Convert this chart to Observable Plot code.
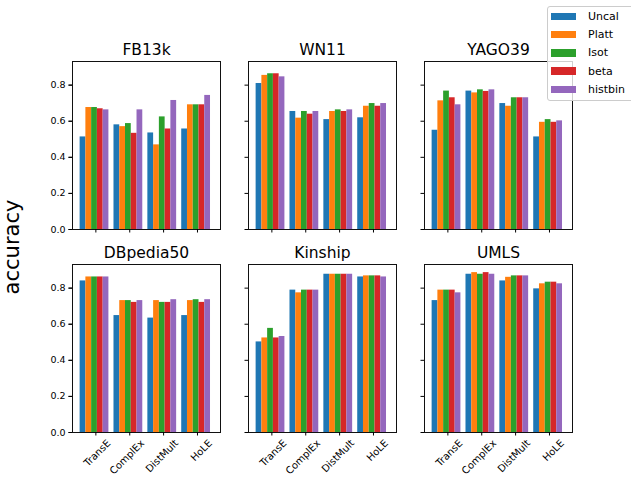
<!DOCTYPE html>
<html>
<head>
<meta charset="utf-8">
<script src="https://cdn.jsdelivr.net/npm/d3@7"></script>
<script src="https://cdn.jsdelivr.net/npm/@observablehq/plot@0.6"></script>
<style>
  html, body { margin: 0; padding: 0; background: white; }
  #wrap { position: relative; width: 631px; height: 487px; overflow: hidden; font-family: "DejaVu Sans", sans-serif; }
  #ylabel { position: absolute; left: 12px; top: 247px; transform: translate(-50%, -50%) rotate(-90deg); font-size: 21px; white-space: nowrap; color: #000; }
  #legend { position: absolute; left: 547px; top: 6px; width: 96px; height: 93px; border: 1px solid #cccccc; border-radius: 3px; background: rgba(255,255,255,0.8); font-size: 11px; color: #000; }
  .item { position: absolute; left: 3px; height: 12px; display: flex; align-items: center; }
  .sw { width: 25px; height: 7.5px; margin-right: 12px; }
</style>
</head>
<body>
<div id="wrap">
  <div id="chart"></div>
  <div id="ylabel">accuracy</div>
  <div id="legend"></div>
</div>
<script>
const datasets = ["FB13k", "WN11", "YAGO39", "DBpedia50", "Kinship", "UMLS"];
const models = ["TransE", "ComplEx", "DistMult", "HoLE"];
const methods = ["Uncal", "Platt", "Isot", "beta", "histbin"];
const colors = ["#1f77b4", "#ff7f0e", "#2ca02c", "#d62728", "#9467bd"];
const yTicks = [0, 0.2, 0.4, 0.6, 0.8];

// rows: models (TransE, ComplEx, DistMult, HoLE); columns: methods (Uncal, Platt, Isot, beta, histbin)
const fb13k = [[0.513, 0.676, 0.676, 0.669, 0.663], [0.580, 0.570, 0.587, 0.533, 0.663], [0.535, 0.469, 0.624, 0.557, 0.715], [0.557, 0.691, 0.691, 0.691, 0.743]];
const wn11 = [[0.809, 0.854, 0.863, 0.863, 0.846], [0.654, 0.617, 0.654, 0.639, 0.654], [0.609, 0.654, 0.663, 0.654, 0.663], [0.619, 0.683, 0.698, 0.683, 0.698]];
const yago39 = [[0.550, 0.713, 0.767, 0.730, 0.691], [0.767, 0.757, 0.774, 0.765, 0.774], [0.698, 0.683, 0.730, 0.730, 0.730], [0.513, 0.594, 0.609, 0.594, 0.602]];
const dbpedia50 = [[0.840, 0.862, 0.862, 0.862, 0.862], [0.648, 0.731, 0.731, 0.721, 0.731], [0.634, 0.731, 0.721, 0.721, 0.736], [0.648, 0.731, 0.736, 0.721, 0.736]];
const kinship = [[0.502, 0.524, 0.577, 0.524, 0.532], [0.789, 0.774, 0.789, 0.789, 0.789], [0.877, 0.877, 0.877, 0.877, 0.877], [0.862, 0.868, 0.868, 0.868, 0.862]];
const umls = [[0.731, 0.789, 0.789, 0.789, 0.774], [0.877, 0.886, 0.877, 0.886, 0.877], [0.840, 0.860, 0.868, 0.868, 0.868], [0.796, 0.824, 0.833, 0.833, 0.824]];

const values = [fb13k, wn11, yago39, dbpedia50, kinship, umls];

const rows = [];
values.forEach((tbl, k) => tbl.forEach((arr, i) => arr.forEach((v, j) => rows.push({
  dataset: datasets[k], col: k % 3, row: Math.floor(k / 3), model: i, j, method: methods[j], value: v
}))));
const titles = datasets.map((name, k) => ({name, col: k % 3, row: Math.floor(k / 3)}));

const W = 0.17, OFF = -0.04;

const chart = Plot.plot({
  width: 631,
  height: 487,
  marginLeft: 71,
  marginRight: 59,
  marginTop: 61,
  marginBottom: 54,
  style: {fontFamily: "DejaVu Sans, sans-serif", fontSize: "9.5px", color: "black", background: "white"},
  x: {domain: [-0.69, 3.68]},
  y: {domain: [0, 0.931]},
  fx: {domain: [0, 1, 2], paddingInner: 0.16, paddingOuter: 0, axis: null},
  fy: {domain: [0, 1], paddingInner: 0.172, paddingOuter: 0, axis: null},
  color: {domain: methods, range: colors},
  marks: [
    Plot.rectY(rows, {
      x1: d => d.model + (d.j - 2.5) * W + OFF,
      x2: d => d.model + (d.j - 1.5) * W + OFF,
      y1: 0, y2: "value", fill: "method", fx: "col", fy: "row"
    }),
    Plot.frame({stroke: "#111", strokeWidth: 1}),
    Plot.axisY({ticks: yTicks, tickFormat: d3.format(".1f"), tickSize: 3.5, tickPadding: 3.5, label: null}),
    Plot.axisY({ticks: yTicks, tickFormat: () => "", tickSize: 3.5, label: null, facetAnchor: null}),
    Plot.axisX({ticks: [0, 1, 2, 3], tickFormat: () => "", tickSize: 3.5, label: null, facetAnchor: null}),
    Plot.axisX({ticks: [0, 1, 2, 3], tickFormat: i => models[i], tickSize: 0, tickPadding: 9, tickRotate: -45, dx: 13, label: null, fontSize: 10}),
    Plot.text(titles, {fx: "col", fy: "row", text: "name", frameAnchor: "top", lineAnchor: "bottom", dy: -7, fontSize: 15.5})
  ]
});
document.getElementById("chart").appendChild(chart);

const legend = document.getElementById("legend");
methods.forEach((m, i) => {
  const it = document.createElement("div");
  it.className = "item";
  it.style.top = (3.3 + i * 18.3) + "px";
  const sw = document.createElement("div");
  sw.className = "sw";
  sw.style.background = colors[i];
  const tx = document.createElement("span");
  tx.textContent = m;
  it.appendChild(sw);
  it.appendChild(tx);
  legend.appendChild(it);
});
</script>
</body>
</html>
